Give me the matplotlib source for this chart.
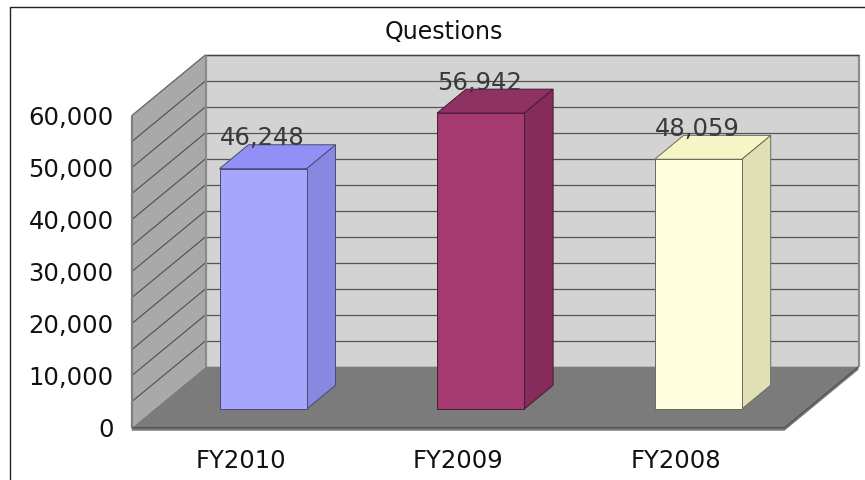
import matplotlib
matplotlib.use("Agg")
import matplotlib.pyplot as plt
from matplotlib.patches import Polygon
from matplotlib.transforms import Affine2D

categories = ["FY2010", "FY2009", "FY2008"]
values = [46248, 56942, 48059]
tick_values = [0, 10000, 20000, 30000, 40000, 50000, 60000]
tick_labels = ["0", "10,000", "20,000", "30,000", "40,000", "50,000", "60,000"]
grid_values = [5000 * i for i in range(1, 13)]
title = "Questions"

front_colors = ["#a6a6ff", "#a43a70", "#ffffe0"]
top_colors = ["#9090f6", "#8f3262", "#f5f5c8"]
side_colors = ["#8888e0", "#852c5a", "#e0e0b4"]
edge_colors = ["#4a4a70", "#4a1a36", "#6a6a58"]

W, H = 865, 481
fig = plt.figure(figsize=(W / 100, H / 100), dpi=100)
ax = fig.add_axes([0, 0, 1, 1])
ax.axis("off")

# x is in category units, y in chart values; the data plane is the front edge
# of the 3D box
band = 217.6
x0 = 131.7
y0 = 428.7
scale = 312 / 60000
ax.set_xlim(-x0 / band - 0.5, (W - x0) / band - 0.5)
ax.set_ylim(-(H - y0) / scale, y0 / scale)

DX, DY = 74, 61


def depth(d):
    # d = 0 front plane, d = 1 back wall
    return ax.transData + Affine2D().translate(DX * d, DY * d)


def to_data(pts):
    disp = [depth(d).transform((x, v)) for x, v, d in pts]
    return ax.transData.inverted().transform(disp)


def poly(pts, color, edge="none", lw=0, z=1):
    ax.add_patch(Polygon(to_data(pts), closed=True, facecolor=color,
                         edgecolor=edge, linewidth=lw, zorder=z))


def line(pts, color, lw, z):
    xy = to_data(pts)
    ax.plot(xy[:, 0], xy[:, 1], color=color, lw=lw, zorder=z, solid_capstyle="butt")


left, right = -0.5, 2.5
top = 60000

# back wall, left wall, floor
poly([(left, 0, 1), (right, 0, 1), (right, top, 1), (left, top, 1)], "#d3d3d3", z=1)
poly([(left, 0, 0), (left, 0, 1), (left, top, 1), (left, top, 0)], "#a9a9a9", z=1)

# grid lines on the two walls
for v in grid_values:
    line([(left, v, 0), (left, v, 1)], "#4f4f4f", 0.8, 1.5)
    line([(left, v, 1), (right, v, 1)], "#555555", 0.9, 1.5)

# box edges
line([(left, 0, 0), (left, top, 0)], "#808080", 1.6, 1.8)
line([(left, 0, 1), (left, top, 1)], "#8c8c8c", 1.6, 1.8)
line([(right, 0, 1), (right, top, 1)], "#8c8c8c", 1.6, 1.8)
line([(left, top, 1), (right, top, 1)], "#444444", 1.0, 1.8)
line([(left, top, 0), (left, top, 1)], "#777777", 0.7, 1.8)

# floor with its thin front band
thick = 3 / scale
poly([(left, 0, 0), (right, 0, 0), (right, 0, 1), (right, -thick, 1), (right, -thick, 0), (left, -thick, 0)],
     "#767676", z=1.9)
poly([(left, 0, 0), (right, 0, 0), (right, 0, 1), (left, 0, 1)], "#7b7b7b", z=2)
line([(left, 0, 0), (right, 0, 0), (right, 0, 1)], "#4a4a4a", 0.8, 2.1)

# bars
half = 43.5 / band
d_front, d_back = 22.5 / 74, 51.5 / 74
for i, (val, fc, tc, sc, ec) in enumerate(zip(values, front_colors, top_colors, side_colors, edge_colors)):
    a, b = i - half, i + half
    poly([(b, 0, d_front), (b, 0, d_back), (b, val, d_back), (b, val, d_front)], sc, ec, 0.7, 3)
    poly([(a, val, d_front), (b, val, d_front), (b, val, d_back), (a, val, d_back)], tc, ec, 0.7, 3)
    poly([(a, 0, d_front), (b, 0, d_front), (b, val, d_front), (a, val, d_front)], fc, ec, 0.7, 3)
    # value label overlaps the back of the bar's top face
    ax.annotate(f"{val:,}", xy=(i, val), xycoords=depth(d_front),
                xytext=(-1, 31.5), textcoords="offset pixels", ha="center", va="center",
                fontsize=17.5, color="#3a3a3a", zorder=4)

# axis labels
for v, lab in zip(tick_values, tick_labels):
    ax.annotate(lab, xy=(left, v), xytext=(-18, -1), textcoords="offset pixels",
                ha="right", va="center", fontsize=17.5, color="#111111")
for i, cat in enumerate(categories):
    ax.annotate(cat, xy=(i, 0), xytext=(0, -32), textcoords="offset pixels",
                ha="center", va="center", fontsize=17.5, color="#111111")

fig.text(444 / W, 1 - 32 / H, title, ha="center", va="center", fontsize=17, color="#111111")

# frame around the chart area
fig.add_artist(plt.Line2D([10 / W, 10 / W, 1], [0, 1 - 7.5 / H, 1 - 7.5 / H], color="#222222", lw=1))

fig.savefig("out.png", dpi=100, facecolor="white")
